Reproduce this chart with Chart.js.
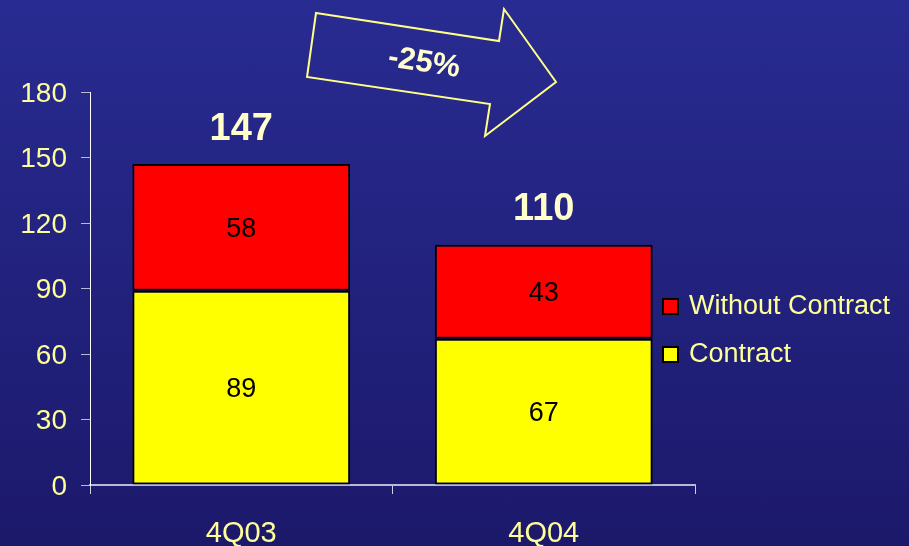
<!DOCTYPE html>
<html>
<head>
<meta charset="utf-8">
<script src="https://cdn.jsdelivr.net/npm/chart.js@4/dist/chart.umd.min.js"></script>
<style>
  html, body { margin: 0; padding: 0; }
  body { width: 909px; height: 546px; background: linear-gradient(#282b91, #1c196b); }
  #wrap { width: 909px; height: 546px; position: relative; }
</style>
</head>
<body>
<div id="wrap"><canvas id="contractChart"></canvas></div>
<script>
// Quarters and stacked values
const quarters = ['4Q03', '4Q04'];
const contract = [89, 67];
const withoutContract = [58, 43];
const yTicks = [0, 30, 60, 90, 120, 150, 180];
const changeLabel = '-25%';

const paleYellow = '#ffff99';
const cream = '#ffffcc';
const font = 'Arial, "Liberation Sans", sans-serif';

// Segment values inside bars, totals above
const valueLabels = {
    id: 'valueLabels',
    afterDatasetsDraw(chart) {
        const ctx = chart.ctx;
        ctx.save();
        ctx.textAlign = 'center';
        ctx.textBaseline = 'middle';
        chart.data.datasets.forEach((ds, i) => {
            chart.getDatasetMeta(i).data.forEach((bar, j) => {
                ctx.fillStyle = '#000';
                ctx.font = '27px ' + font;
                ctx.fillText(ds.data[j], bar.x, (bar.y + bar.base) / 2 + 2);
            });
        });
        const top = chart.getDatasetMeta(chart.data.datasets.length - 1).data;
        top.forEach((bar, j) => {
            const total = contract[j] + withoutContract[j];
            ctx.fillStyle = cream;
            ctx.font = 'bold 38px ' + font;
            ctx.fillText(total, bar.x, chart.scales.y.getPixelForValue(total) - 35);
        });
        ctx.restore();
    }
};

// Legend at the right, top item first
const sideLegend = {
    id: 'sideLegend',
    afterDraw(chart) {
        const ctx = chart.ctx;
        ctx.save();
        const items = chart.data.datasets.slice().reverse();
        items.forEach((ds, i) => {
            const y = 306 + i * 48;
            ctx.fillStyle = ds.backgroundColor;
            ctx.strokeStyle = '#000';
            ctx.lineWidth = 2;
            ctx.fillRect(663, y - 7, 15, 15);
            ctx.strokeRect(663, y - 7, 15, 15);
            ctx.fillStyle = paleYellow;
            ctx.font = '27px ' + font;
            ctx.textAlign = 'left';
            ctx.textBaseline = 'middle';
            ctx.fillText(ds.label, 689, y + 1);
        });
        ctx.restore();
    }
};

// Outlined arrow with the change between quarters
const changeArrow = {
    id: 'changeArrow',
    afterDraw(chart) {
        const ctx = chart.ctx;
        const pts = [[316, 13], [499, 41], [504, 9], [556, 82], [485, 136], [490, 104], [307, 77]];
        ctx.save();
        ctx.beginPath();
        pts.forEach((p, i) => i ? ctx.lineTo(p[0], p[1]) : ctx.moveTo(p[0], p[1]));
        ctx.closePath();
        ctx.strokeStyle = '#ffff88';
        ctx.lineWidth = 2;
        ctx.stroke();
        ctx.translate(424, 63);
        ctx.rotate(9 * Math.PI / 180);
        ctx.fillStyle = cream;
        ctx.font = 'bold 31px ' + font;
        ctx.textAlign = 'center';
        ctx.textBaseline = 'middle';
        ctx.fillText(changeLabel, 0, 0);
        ctx.restore();
    }
};

new Chart(document.getElementById('contractChart'), {
    type: 'bar',
    data: {
        labels: quarters,
        datasets: [
            {
                label: 'Contract',
                data: contract,
                backgroundColor: '#ffff00',
                borderColor: '#000',
                borderWidth: 2,
                borderSkipped: false
            },
            {
                label: 'Without Contract',
                data: withoutContract,
                backgroundColor: '#ff0000',
                borderColor: '#000',
                borderWidth: 2,
                borderSkipped: false
            }
        ]
    },
    options: {
        responsive: true,
        maintainAspectRatio: false,
        animation: false,
        barPercentage: 0.72,
        categoryPercentage: 1,
        layout: { padding: { left: 0, right: 214, top: 92, bottom: 0 } },
        plugins: {
            legend: { display: false },
            tooltip: { enabled: false }
        },
        scales: {
            x: {
                stacked: true,
                offset: true,
                afterFit: s => { s.height = 61; },
                border: { color: '#b8b8d8', width: 2 },
                grid: {
                    offset: true,
                    drawOnChartArea: false,
                    drawTicks: true,
                    tickLength: 9,
                    color: '#d0d0e8'
                },
                ticks: { color: paleYellow, font: { family: font, size: 29 }, padding: 23 }
            },
            y: {
                stacked: true,
                min: 0,
                max: 180,
                afterFit: s => { s.width = 90; },
                afterBuildTicks: s => { s.ticks = yTicks.map(v => ({ value: v })); },
                border: { color: '#ffffff', width: 1 },
                grid: {
                    drawOnChartArea: false,
                    drawTicks: true,
                    tickLength: 9,
                    color: '#b8b8d8'
                },
                ticks: { color: paleYellow, font: { family: font, size: 28 }, padding: 14, labelOffset: 2 }
            }
        }
    },
    plugins: [valueLabels, sideLegend, changeArrow]
});
</script>
</body>
</html>
